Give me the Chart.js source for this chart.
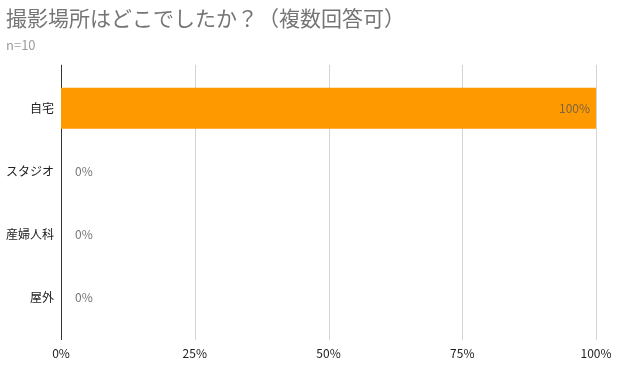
<!DOCTYPE html>
<html>
<head>
<meta charset="utf-8">
<script src="https://cdn.jsdelivr.net/npm/chart.js@4"></script>
<style>
  html, body { margin: 0; padding: 0; background: #fff; }
  #wrap { width: 620px; height: 367px; }
</style>
</head>
<body>
<div id="wrap"><canvas id="chart"></canvas></div>
<script>
const categories = ['自宅', 'スタジオ', '産婦人科', '屋外'];
const percentages = [100, 0, 0, 0];
const tickValues = [0, 25, 50, 75, 100];

const FONT = '"Noto Sans CJK JP", "Noto Sans", Roboto, sans-serif';

// vertical grid lines + axis line, a bit taller than the category bands
const gridLines = {
    id: 'gridLines',
    beforeDatasetsDraw(chart) {
        const ctx = chart.ctx;
        const area = chart.chartArea;
        const x = chart.scales.x;
        ctx.save();
        ctx.lineWidth = 1;
        tickValues.forEach(v => {
            const px = Math.round(x.getPixelForValue(v)) + 0.5;
            ctx.strokeStyle = v === 0 ? '#333' : '#d3d3d3';
            ctx.beginPath();
            ctx.moveTo(px, area.top - 12);
            ctx.lineTo(px, area.bottom + 11);
            ctx.stroke();
        });
        ctx.restore();
    }
};

// % labels next to / inside each bar
const barLabels = {
    id: 'barLabels',
    afterDatasetsDraw(chart) {
        const ctx = chart.ctx;
        const meta = chart.getDatasetMeta(0);
        ctx.save();
        ctx.font = '12px ' + FONT;
        ctx.textBaseline = 'middle';
        meta.data.forEach((bar, i) => {
            const v = percentages[i];
            const text = v + '%';
            if (v > 10) {
                ctx.fillStyle = '#7a6440';
                ctx.textAlign = 'right';
                ctx.fillText(text, bar.x - 6, bar.y);
            } else {
                ctx.fillStyle = '#757575';
                ctx.textAlign = 'left';
                ctx.fillText(text, bar.base + 14, bar.y);
            }
        });
        ctx.restore();
    }
};

const ctx = document.getElementById('chart').getContext('2d');
const chart = new Chart(ctx, {
    type: 'bar',
    data: {
        labels: categories,
        datasets: [{
            data: percentages,
            backgroundColor: '#ff9900',
            borderWidth: 0,
            barPercentage: 0.65,
            categoryPercentage: 1.0
        }]
    },
    options: {
        indexAxis: 'y',
        responsive: true,
        maintainAspectRatio: false,
        animation: false,
        layout: { padding: { left: 6, right: 24, top: 0, bottom: 0 } },
        plugins: {
            legend: { display: false },
            tooltip: { enabled: false },
            title: {
                display: true,
                text: '撮影場所はどこでしたか？（複数回答可）',
                align: 'start',
                color: '#757575',
                font: { family: FONT, size: 21, weight: 'normal' },
                padding: { top: 5, bottom: 7 }
            },
            subtitle: {
                display: true,
                text: 'n=10',
                align: 'start',
                color: '#9e9e9e',
                font: { family: FONT, size: 13 },
                padding: { top: 0, bottom: 24 }
            }
        },
        scales: {
            x: {
                min: 0,
                max: 100,
                afterBuildTicks(axis) {
                    axis.ticks = tickValues.map(v => ({ value: v }));
                },
                afterFit(axis) {
                    axis.height = 38;
                    axis.paddingLeft = 0;
                    axis.paddingRight = 0;
                },
                ticks: {
                    color: '#222',
                    font: { family: FONT, size: 12 },
                    padding: 17,
                    maxRotation: 0,
                    callback: v => v + '%'
                },
                grid: { display: false, drawTicks: false },
                border: { display: false }
            },
            y: {
                afterFit(axis) { axis.width = 55; },
                ticks: {
                    color: '#222',
                    font: { family: FONT, size: 12 },
                    padding: 7
                },
                grid: { display: false, drawTicks: false },
                border: { display: false }
            }
        }
    },
    plugins: [gridLines, barLabels]
});
</script>
</body>
</html>
